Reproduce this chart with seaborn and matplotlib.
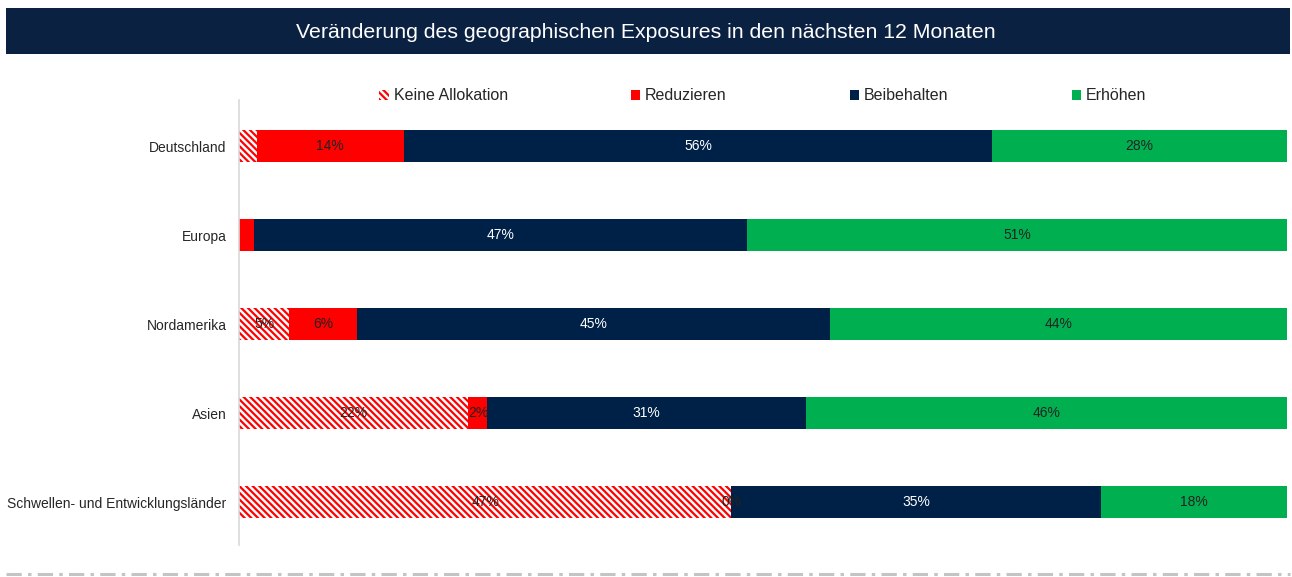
import pandas as pd
import matplotlib.pyplot as plt
import seaborn as sns
from matplotlib.patches import Patch, Rectangle
from matplotlib.lines import Line2D

# Regions (top to bottom)
regions = ["Deutschland", "Europa", "Nordamerika", "Asien",
           "Schwellen- und Entwicklungsländer"]

# Shares in percent
keine = [1.7, 0.0, 4.8, 21.9, 47.0]
reduzieren = [14.0, 1.4, 6.5, 1.8, 0.0]
beibehalten = [56.2, 47.1, 45.1, 30.4, 35.3]
erhoehen = [28.1, 51.5, 43.6, 45.9, 17.7]

# Labels as printed in the chart ('' = not shown)
keine_lbl = ["", "", "5%", "22%", "47%"]
reduzieren_lbl = ["14%", "", "6%", "2%", "0%"]
beibehalten_lbl = ["56%", "47%", "45%", "31%", "35%"]
erhoehen_lbl = ["28%", "51%", "44%", "46%", "18%"]

series_names = ["Keine Allokation", "Reduzieren", "Beibehalten", "Erhöhen"]

RED = "#FF0000"
NAVY = "#002147"
GREEN = "#00B050"
HATCH = "\\\\\\\\\\"

sns.set_style("white")
plt.rcParams["font.family"] = ["Liberation Sans", "DejaVu Sans"]
plt.rcParams["hatch.linewidth"] = 1.6
plt.rcParams["lines.scale_dashes"] = False

df = pd.DataFrame({
    "region": regions,
    "keine": keine,
    "reduzieren": reduzieren,
    "beibehalten": beibehalten,
    "erhoehen": erhoehen,
})
df["c1"] = df["keine"]
df["c2"] = df["c1"] + df["reduzieren"]
df["c3"] = df["c2"] + df["beibehalten"]
df["c4"] = df["c3"] + df["erhoehen"]

fig = plt.figure(figsize=(12.92, 5.77), dpi=100)
ax = fig.add_axes([0.185, 0.0555, 0.811, 0.7712])

bw = 0.36
# draw cumulative layers, longest first
sns.barplot(data=df, x="c4", y="region", orient="h", color=GREEN,
            saturation=1, width=bw, errorbar=None, linewidth=0, ax=ax)
sns.barplot(data=df, x="c3", y="region", orient="h", color=NAVY,
            saturation=1, width=bw, errorbar=None, linewidth=0, ax=ax)
sns.barplot(data=df, x="c2", y="region", orient="h", color=RED,
            saturation=1, width=bw, errorbar=None, linewidth=0, ax=ax)
sns.barplot(data=df, x="c1", y="region", orient="h", color="white",
            saturation=1, width=bw, errorbar=None, linewidth=0,
            hatch=HATCH, edgecolor=RED, ax=ax)

# data labels
layers = [
    ("c1", "keine", keine_lbl, "#222222"),
    ("c2", "reduzieren", reduzieren_lbl, "#222222"),
    ("c3", "beibehalten", beibehalten_lbl, "white"),
    ("c4", "erhoehen", erhoehen_lbl, "#222222"),
]
for cum, col, lbls, tc in layers:
    for i in range(len(regions)):
        if not lbls[i]:
            continue
        xc = df[cum].iloc[i] - df[col].iloc[i] / 2
        ax.text(xc, i, lbls[i], ha="center", va="center", fontsize=10, color=tc)

ax.set_xlim(0, 100)
ax.set_ylim(4.48, -0.52)
ax.set_xlabel("")
ax.set_ylabel("")
ax.set_xticks([])
ax.tick_params(axis="y", length=0, pad=9, labelsize=10)
for s in ["top", "right", "bottom"]:
    ax.spines[s].set_visible(False)
ax.spines["left"].set_color("#D9D9D9")
ax.spines["left"].set_linewidth(1.2)

# legend
handles = [
    Patch(facecolor="white", edgecolor=RED, hatch=HATCH, linewidth=0),
    Patch(facecolor=RED, linewidth=0),
    Patch(facecolor=NAVY, linewidth=0),
    Patch(facecolor=GREEN, linewidth=0),
]
ax.legend(handles, series_names, loc="center", bbox_to_anchor=(0.5, 1 + 4 / 445),
          ncol=4, frameon=False, fontsize=11.5, handlelength=0.6, handleheight=0.6,
          handletextpad=0.3, columnspacing=7.7, borderaxespad=0.0)

# title banner
fig.patches.append(Rectangle((6 / 1292, 1 - 54 / 577), 1284 / 1292, 46 / 577,
                             transform=fig.transFigure, facecolor="#0B2142",
                             edgecolor="none", zorder=0))
fig.text(0.5, 1 - 32 / 577, "Veränderung des geographischen Exposures in den nächsten 12 Monaten",
         ha="center", va="center", color="white", fontsize=15.3)

# dash-dot footer line
fig.add_artist(Line2D([6 / 1292, 1290 / 1292], [1 - 574 / 577, 1 - 574 / 577],
                      transform=fig.transFigure, color="#C4C4C4", linewidth=2.2,
                      dashes=(11, 4.5, 2.5, 4.5)))

fig.savefig("out.png", dpi=100)
